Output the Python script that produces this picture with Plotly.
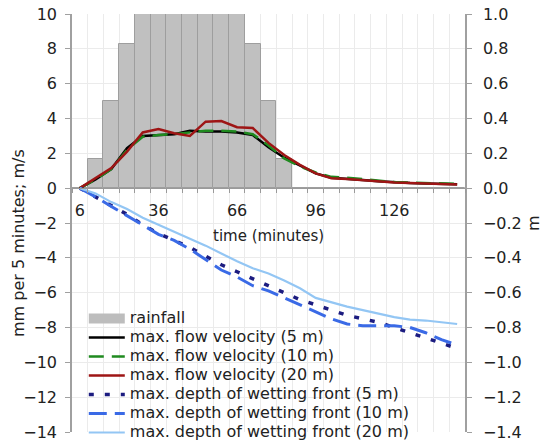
import plotly.graph_objects as go

# ---- data ----
time_min = [6, 12, 18, 24, 30, 36, 42, 48, 54, 60, 66, 72, 78, 84, 90, 96,
            102, 108, 114, 120, 126, 132, 138, 144, 150]
rainfall = [0, 1.7, 5.0, 8.3, 10, 10, 10, 10, 10, 10, 10, 8.3, 5.0, 1.7,
            0, 0, 0, 0, 0, 0, 0, 0, 0, 0, 0]
vel_5m = [0, 0.5, 1.1, 2.3, 3.0, 3.05, 3.1, 3.3, 3.25, 3.25, 3.2, 3.05, 2.35,
          1.75, 1.3, 0.85, 0.6, 0.55, 0.47, 0.4, 0.33, 0.3, 0.27, 0.26, 0.23]
vel_10m = [0, 0.5, 1.1, 2.2, 2.95, 3.05, 3.1, 3.2, 3.3, 3.3, 3.25, 3.1, 2.45,
           1.7, 1.25, 0.9, 0.65, 0.6, 0.52, 0.42, 0.35, 0.32, 0.3, 0.28, 0.25]
vel_20m = [0, 0.55, 1.15, 2.1, 3.2, 3.4, 3.15, 3.0, 3.82, 3.85, 3.5, 3.45, 2.6,
           1.9, 1.34, 0.85, 0.57, 0.52, 0.44, 0.38, 0.32, 0.29, 0.26, 0.25, 0.21]
depth_5m = [0, -0.05, -0.10, -0.15, -0.21, -0.26, -0.30, -0.34, -0.39, -0.44,
            -0.48, -0.52, -0.56, -0.60, -0.64, -0.67, -0.70, -0.73, -0.75,
            -0.77, -0.80, -0.83, -0.86, -0.89, -0.92]
depth_10m = [0, -0.05, -0.105, -0.16, -0.21, -0.265, -0.30, -0.35, -0.41, -0.47,
             -0.51, -0.56, -0.59, -0.63, -0.67, -0.71, -0.75, -0.78, -0.79,
             -0.79, -0.79, -0.80, -0.83, -0.87, -0.90]
depth_20m = [0, -0.03, -0.08, -0.12, -0.17, -0.21, -0.25, -0.29, -0.33, -0.375,
             -0.42, -0.46, -0.49, -0.53, -0.575, -0.63, -0.655, -0.68, -0.70,
             -0.72, -0.74, -0.755, -0.76, -0.77, -0.78]
x_tick_vals = [6, 36, 66, 96, 126]

TXT = '#222222'
AX = '#a0a0a0'
GRID = '#ebebeb'

FIG_W, FIG_H = 547, 445
PLOT_TOP, PLOT_BOTTOM = 14, 432  # pixel rows of y=10 and y=-14
PLOT_H = PLOT_BOTTOM - PLOT_TOP


def lg(s):
    return '<span style="font-size:16px">' + s + '</span>'


def py(win_y):
    # pixel row -> paper fraction
    return 1 - (win_y - PLOT_TOP) / PLOT_H


fig = go.Figure()

fig.add_trace(go.Bar(x=time_min, y=rainfall, width=6, name=lg('rainfall'),
                     marker=dict(color='#c0c0c0', line=dict(color='#9e9e9e', width=1)),
                     showlegend=False, yaxis='y'))
# legend proxy for the rainfall bars (wide grey swatch)
fig.add_trace(go.Scatter(x=[None], y=[None], mode='lines', name=lg('rainfall'),
                         line=dict(color='#bdbdbd', width=11), legendrank=1))

fig.add_trace(go.Scatter(x=time_min, y=vel_5m, mode='lines', name=lg('max. flow velocity (5 m)'),
                         line=dict(color='#000000', width=2.5), legendrank=2))
fig.add_trace(go.Scatter(x=time_min, y=vel_10m, mode='lines', name=lg('max. flow velocity (10 m)'),
                         line=dict(color='#1f8a1f', width=2.5, dash='15px,8px'), legendrank=3))
fig.add_trace(go.Scatter(x=time_min, y=vel_20m, mode='lines', name=lg('max. flow velocity (20 m)'),
                         line=dict(color='#9e1515', width=2.5), legendrank=4))
fig.add_trace(go.Scatter(x=time_min, y=depth_5m, mode='lines', yaxis='y2',
                         name=lg('max. depth of wetting front (5 m)'),
                         line=dict(color='#1c1c80', width=3.5, dash='5px,11px'), legendrank=5))
fig.add_trace(go.Scatter(x=time_min, y=depth_10m, mode='lines', yaxis='y2',
                         name=lg('max. depth of wetting front (10 m)'),
                         line=dict(color='#3a6ae6', width=3, dash='18px,8px'), legendrank=6))
fig.add_trace(go.Scatter(x=time_min, y=depth_20m, mode='lines', yaxis='y2',
                         name=lg('max. depth of wetting front (20 m)'),
                         line=dict(color='#93c6f4', width=2.2), legendrank=7))

fig.update_layout(
    template='none',
    width=FIG_W, height=FIG_H,
    margin=dict(l=72, r=82, t=PLOT_TOP, b=FIG_H - PLOT_BOTTOM, autoexpand=False),
    paper_bgcolor='white', plot_bgcolor='white',
    bargap=0,
    font=dict(family='DejaVu Sans', size=16, color=TXT),
    xaxis=dict(range=[3, 153], tickvals=x_tick_vals, anchor='free', position=14 / 24,
               showline=True, linecolor='#9a9a9a', linewidth=1, ticks='', showgrid=False,
               zeroline=False, automargin=False, ticklabelstandoff=8,
               tickfont=dict(size=16, color=TXT),
               minor=dict(tick0=3, dtick=6, showgrid=True, gridcolor=GRID, gridwidth=1,
                          ticks='outside', ticklen=4, tickcolor='#9a9a9a')),
    yaxis=dict(range=[-14, 10], dtick=2, showline=True, linecolor=AX, linewidth=1.5,
               ticks='outside', ticklen=5, tickcolor=AX, showgrid=True, gridcolor=GRID,
               zeroline=False, automargin=False, ticklabelstandoff=5,
               ticklabeloverflow='allow', tickfont=dict(size=16, color=TXT)),
    yaxis2=dict(range=[-1.4, 1.0], dtick=0.2, tickformat='.1f', overlaying='y', side='right',
                showline=True, linecolor=AX, linewidth=1.5, ticks='outside', ticklen=5,
                tickcolor=AX, showgrid=False, zeroline=False, automargin=False,
                ticklabelstandoff=8, ticklabeloverflow='allow',
                tickfont=dict(size=16, color=TXT)),
    legend=dict(x=0.03, y=py(304), xanchor='left', yanchor='top', bgcolor='rgba(0,0,0,0)',
                borderwidth=0, font=dict(family='DejaVu Sans', size=12, color=TXT),
                itemwidth=36, tracegroupgap=0, traceorder='normal'),
    annotations=[
        dict(text='time (minutes)', xref='paper', yref='paper', x=0.5, y=py(236),
             xanchor='center', yanchor='middle', showarrow=False,
             font=dict(family='DejaVu Sans', size=15, color=TXT)),
        dict(text='mm per 5 minutes; m/s', xref='paper', yref='paper', x=(18 - 72) / 393,
             y=py(243), xanchor='center', yanchor='middle', textangle=-90,
             showarrow=False, font=dict(family='DejaVu Sans', size=16, color=TXT)),
        dict(text='m', xref='paper', yref='paper', x=(533 - 72) / 393, y=py(223),
             xanchor='center', yanchor='middle', textangle=-90, showarrow=False,
             font=dict(family='DejaVu Sans', size=16, color=TXT)),
    ],
)

# remove the browser's default 8 px page margin so the figure fills the window
fig.write_html('out.html', config={'displayModeBar': False},
               post_script="document.body.style.margin='0';")
